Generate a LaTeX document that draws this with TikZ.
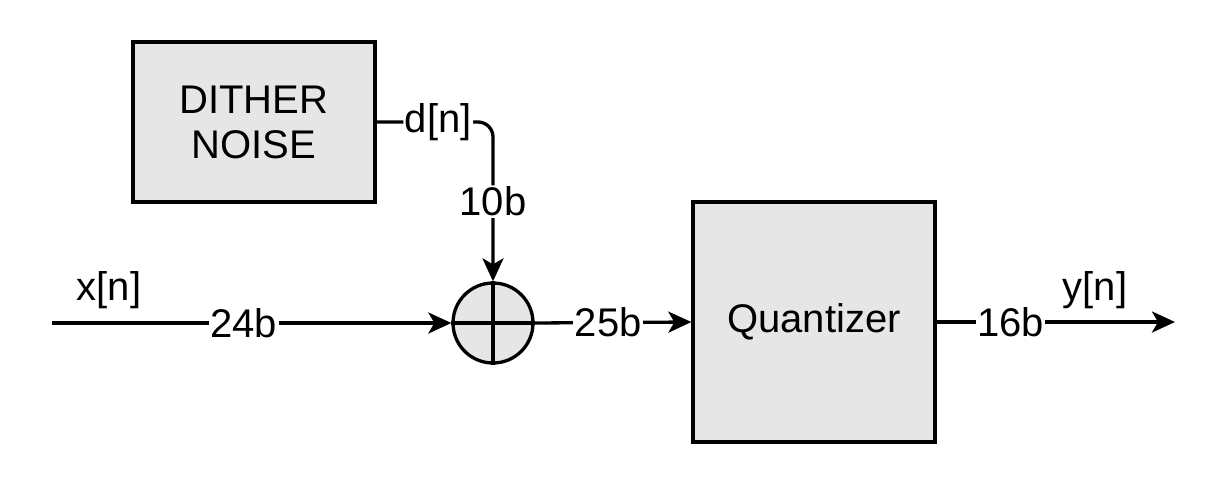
\documentclass[tikz,border=0pt]{standalone}
\usepackage{fontspec}
\setmainfont{Liberation Sans}
\usetikzlibrary{arrows.meta}
\definecolor{boxgray}{HTML}{E6E6E6}
\begin{document}
\begin{tikzpicture}[x=1pt,y=-1pt,
  every node/.style={font=\fontsize{40}{45}\selectfont},
  blk/.style={draw, line width=3.3pt, fill=boxgray, inner sep=0pt, align=center},
  sumnode/.style={draw, circle, line width=3.3pt, fill=boxgray, minimum size=80pt, inner sep=0pt},
  lbl/.style={fill=white, inner sep=1.5pt},
  conn/.style={line width=3.3pt},
  arr/.style={conn, -{Stealth[length=23pt,width=21pt,inset=6pt]}}]
\useasboundingbox (0,0) rectangle (1210,480);
\node[blk, minimum width=242pt, minimum height=160pt] (d) at (254,122) {DITHER\\NOISE};
\node[blk, minimum width=242pt, minimum height=240pt] (q) at (814,322) {Quantizer};
\node[sumnode] (s) at (493,323) {};
\draw[conn] (s.north) -- (s.south) (s.west) -- (s.east);
\coordinate (xin) at (52,323);
\coordinate (yout) at (1175,322);
\node (xl) at (109,290) {x[n]};
\node (yl) at (1095,290) {y[n]};
\draw[arr] (xin) -- node[lbl, pos=0.48] {24b} (s.west);
\draw[arr] (s.east) -- node[lbl, pos=0.47] {25b} (q.west);
\draw[arr] (q.east) -- node[lbl, pos=0.31] {16b} (yout);
\draw[arr, rounded corners=15pt] (d.east) -- node[lbl, pos=0.53] {d[n]} (d.east -| s.north) -- node[lbl, pos=0.5] {10b} (s.north);
\end{tikzpicture}
\end{document}
